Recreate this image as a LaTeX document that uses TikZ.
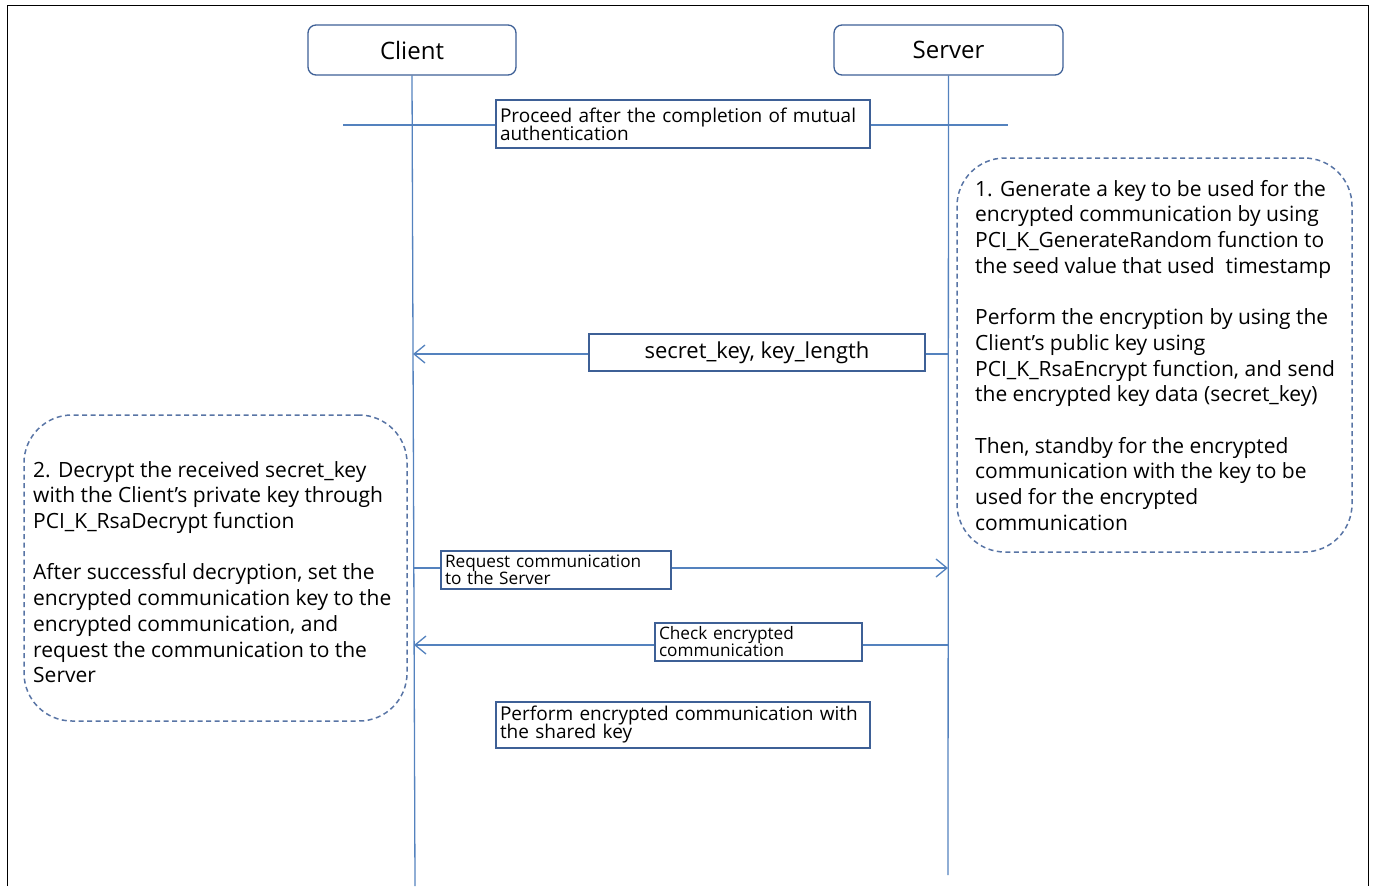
\documentclass[tikz,border=0pt]{standalone}
\usepackage{fontspec}
\setmainfont{Open Sans}
\usetikzlibrary{arrows.meta}
\definecolor{lifeline}{RGB}{84,130,190}
\definecolor{boxline}{RGB}{62,96,150}
\definecolor{dashline}{RGB}{88,116,165}
\newcommand\mytightlines{\lineskiplimit=-50pt\relax}
\pgfdeclarelayer{bg}
\pgfsetlayers{bg,main}
\tikzset{
  actor/.style={draw=boxline, line width=1.3pt, rounded corners=8pt, inner sep=0pt,
    font=\fontsize{24}{28}\selectfont},
  life/.style={draw=lifeline, line width=1.3pt},
  msgbox/.style={draw=boxline, line width=1.2pt, fill=white, inner xsep=4pt, inner ysep=0pt,
    align=left, font={\fontsize{19}{18}\selectfont\mytightlines}},
  smallbox/.style={msgbox, font={\fontsize{17.2}{17}\selectfont\mytightlines}},
  msg/.style={draw=lifeline, line width=1.3pt, -{Straight Barb[length=11pt,width=18pt,line width=1.3pt]}},
  notebox/.style={draw=dashline, line width=1.5pt, dash pattern=on 5pt off 3.5pt, rounded corners=48pt, inner sep=0pt},
  notetext/.style={anchor=north west, inner sep=0pt, align=left, font=\fontsize{21}{25.7}\selectfont},
}
\begin{document}
\begin{tikzpicture}[x=1pt,y=-1pt]
\useasboundingbox (0,0) rectangle (1375,886);
% outer frame
\draw[black, line width=1pt] (7,886) -- (7,5) -- (1368,5) -- (1368,886);

% actors
\node[actor, minimum width=208pt, minimum height=50pt] (client) at (412,50) {Client};
\node[actor, minimum width=229pt, minimum height=50pt] (server) at (948.5,50) {Server};
\coordinate (cend) at (415,886);
\coordinate (send) at (948,875);

% message boxes
\node[msgbox, text width=366pt, minimum height=48pt] (proceed) at (683,124)
  {Proceed after the completion of mutual\\authentication};
\node[draw=boxline, line width=1.2pt, fill=white, minimum width=336pt, minimum height=37pt,
  inner sep=0pt, font=\fontsize{22}{26}\selectfont] (secret) at (757,352.5) {secret\_key, key\_length};
\node[smallbox, text width=222pt, minimum height=38pt] (request) at (556,570)
  {Request communication\\to the Server};
\node[smallbox, text width=199pt, minimum height=38pt] (check) at (758.5,642)
  {Check encrypted\\communication};
\node[msgbox, text width=366pt, minimum height=46pt] (perform) at (683,725)
  {Perform encrypted communication with\\the shared key};

% note boxes
\node[notebox, minimum width=395pt, minimum height=394pt] (note1) at (1154.5,355) {};
\node[notetext] (note1text) at (975,180) {1. Generate a key to be used for the\\
encrypted communication by using\\
PCI\_K\_GenerateRandom function to\\
the seed value that used\ \ timestamp\\[25.7pt]
Perform the encryption by using the\\
Client’s public key using\\
PCI\_K\_RsaEncrypt function, and send\\
the encrypted key data (secret\_key)\\[25.7pt]
Then, standby for the encrypted\\
communication with the key to be\\
used for the encrypted\\
communication};

\node[notebox, minimum width=383pt, minimum height=306pt] (note2) at (215.5,568) {};
\node[notetext] (note2text) at (33,461) {2. Decrypt the received secret\_key\\
with the Client’s private key through\\
PCI\_K\_RsaDecrypt function\\[25.7pt]
After successful decryption, set the\\
encrypted communication key to the\\
encrypted communication, and\\
request the communication to the\\
Server};

% message anchor points on lifelines
\coordinate (hl1) at (343,125);
\coordinate (hl2) at (1008,125);
\coordinate (c1) at (413,354);
\coordinate (s1) at (948,354);
\coordinate (c2) at (413.5,568);
\coordinate (s2) at (948,568);
\coordinate (c3) at (414,645);
\coordinate (s3) at (948,645);

\begin{pgfonlayer}{bg}
\draw[life] (client.south) -- (cend);
\draw[life] (server.south) -- (send);
\draw[life] (hl1) -- (hl2);
\draw[msg] (s1) -- (c1);
\draw[msg] (c2) -- (s2);
\draw[msg] (s3) -- (c3);
\end{pgfonlayer}
\end{tikzpicture}
\end{document}
